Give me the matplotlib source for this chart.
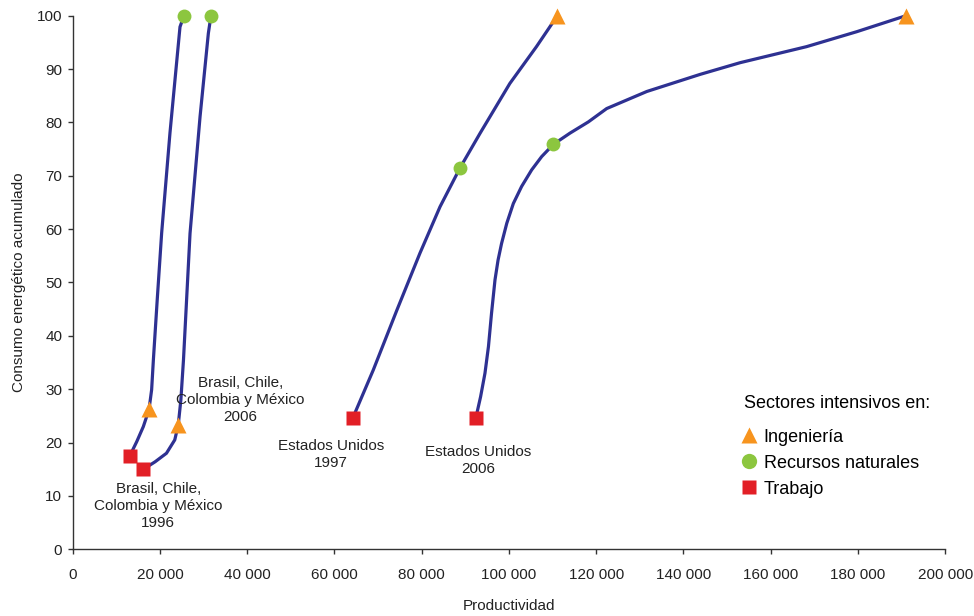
import matplotlib
matplotlib.use('Agg')
import matplotlib.pyplot as plt
from matplotlib.ticker import FuncFormatter, MultipleLocator
from matplotlib.lines import Line2D

plt.rcParams['font.family'] = ['Liberation Sans', 'DejaVu Sans']

# Curves (productivity, cumulative energy use)
bcm1996_x = [13100, 14700, 16200, 17500, 18100, 18500, 19400, 20400, 22300, 24600, 25500]
bcm1996_y = [17.5, 20.2, 23.0, 26.2, 29.9, 35.5, 47.0, 59.3, 78.0, 97.9, 100]

bcm2006_x = [16200, 18900, 21500, 23400, 24200, 24800, 25400, 26900, 29200, 31100, 31700]
bcm2006_y = [15.0, 16.4, 18.0, 20.5, 23.3, 28.0, 35.5, 59.2, 81.1, 96.7, 100]

us1997_x = [64200, 68900, 74300, 79600, 84200, 88800, 93400, 100200, 106300, 111100]
us1997_y = [24.6, 33.6, 44.8, 55.5, 64.2, 71.5, 78.0, 87.3, 94.2, 100]

us2006_x = [92400, 93500, 94500, 95300, 96000, 96800, 97500, 98300, 99500, 101000,
            102900, 105200, 107500, 110200, 114000, 118200, 122400, 131600, 143800,
            153000, 168200, 179700, 191000]
us2006_y = [24.6, 28.6, 33.0, 38.0, 44.2, 50.5, 54.2, 57.3, 61.1, 64.8,
            68.0, 71.1, 73.6, 75.9, 78.0, 80.1, 82.6, 85.8, 89.0,
            91.2, 94.2, 97.0, 100]

# Sector markers (one per curve)
trabajo_x = [13100, 16200, 64200, 92400]
trabajo_y = [17.5, 15.0, 24.6, 24.6]
ingenieria_x = [17500, 24200, 111100, 191000]
ingenieria_y = [26.2, 23.3, 100, 100]
recursos_x = [25500, 31700, 88800, 110200]
recursos_y = [100, 100, 71.5, 75.9]

line_color = '#2E3192'
orange = '#F7941E'
green = '#8CC63F'
red = '#E21F26'

fig = plt.figure(figsize=(9.74, 6.16), dpi=100)
ax = fig.add_axes([0.0746, 0.1083, 0.8959, 0.8662])

for xs, ys in [(bcm1996_x, bcm1996_y), (bcm2006_x, bcm2006_y),
               (us1997_x, us1997_y), (us2006_x, us2006_y)]:
    ax.plot(xs, ys, color=line_color, lw=2.3, solid_joinstyle='round',
            solid_capstyle='round', zorder=2, clip_on=False)

ax.plot(trabajo_x, trabajo_y, ls='none', marker='s', ms=9.5, color=red,
        mec='none', zorder=3, clip_on=False)
ax.plot(ingenieria_x, ingenieria_y, ls='none', marker='^', ms=11.5, color=orange,
        mec='none', zorder=3, clip_on=False)
ax.plot(recursos_x, recursos_y, ls='none', marker='o', ms=10, color=green,
        mec='none', zorder=3, clip_on=False)

ax.set_xlim(0, 200000)
ax.set_ylim(0, 100)
ax.xaxis.set_major_locator(MultipleLocator(20000))
ax.yaxis.set_major_locator(MultipleLocator(10))
ax.xaxis.set_major_formatter(FuncFormatter(lambda v, p: f"{int(v):,}".replace(",", " ")))

for s in ['top', 'right']:
    ax.spines[s].set_visible(False)
for s in ['left', 'bottom']:
    ax.spines[s].set_color('#333333')
    ax.spines[s].set_linewidth(1.0)
ax.tick_params(axis='both', direction='out', length=3.5, width=1.0,
               color='#333333', labelsize=11, labelcolor='#222222')
ax.tick_params(axis='x', pad=10)
ax.tick_params(axis='y', pad=4)

ax.set_xlabel('Productividad', fontsize=11, labelpad=12, color='#222222')
ax.set_ylabel('Consumo energético acumulado', fontsize=11, labelpad=8, color='#222222')

txt = dict(ha='center', va='center', fontsize=11, linespacing=1.25, color='#222222')
ax.text(19600, 8.1, 'Brasil, Chile,\nColombia y México\n1996', **txt)
ax.text(38400, 28.0, 'Brasil, Chile,\nColombia y México\n2006', **txt)
ax.text(59200, 17.7, 'Estados Unidos\n1997', **txt)
ax.text(92900, 16.7, 'Estados Unidos\n2006', **txt)

handles = [
    Line2D([], [], ls='none', marker='^', ms=12, color=orange, mec='none'),
    Line2D([], [], ls='none', marker='o', ms=11, color=green, mec='none'),
    Line2D([], [], ls='none', marker='s', ms=10, color=red, mec='none'),
]
leg = ax.legend(handles, ['Ingeniería', 'Recursos naturales', 'Trabajo'],
                title='Sectores intensivos en:', frameon=False, fontsize=13,
                title_fontsize=13, loc='upper left',
                bbox_to_anchor=(744 / 974, 1 - 395 / 616),
                bbox_transform=fig.transFigure, borderpad=0, borderaxespad=0,
                handlelength=0.55, handletextpad=0.55, labelspacing=0.5,
                alignment='left')
leg._legend_box.sep = 12

fig.savefig('out.png', dpi=100)
